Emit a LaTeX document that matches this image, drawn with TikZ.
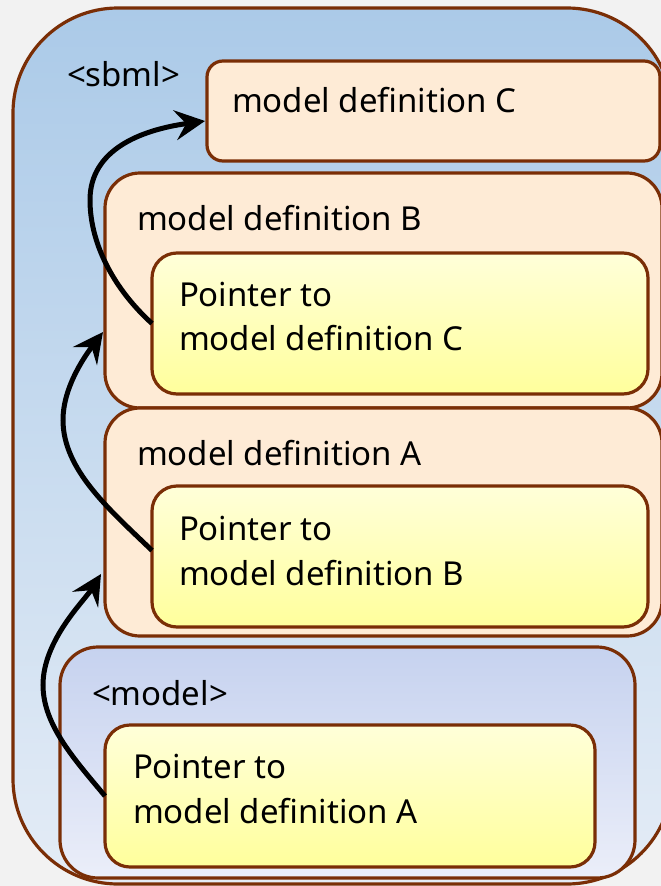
\documentclass[tikz,border=0pt]{standalone}
\usepackage{fontspec}
\setmainfont{Noto Sans}
\usetikzlibrary{arrows.meta,calc}
\definecolor{brd}{RGB}{122,46,6}
\definecolor{bgc}{RGB}{242,242,242}
\definecolor{outtop}{RGB}{171,202,232}
\definecolor{outbot}{RGB}{228,236,246}
\definecolor{peach}{RGB}{254,235,214}
\definecolor{ptop}{RGB}{255,255,217}
\definecolor{pbot}{RGB}{255,255,156}
\definecolor{mtop}{RGB}{198,210,239}
\definecolor{mbot}{RGB}{235,238,249}
\tikzset{
  frame/.style={draw=brd, line width=3.2pt, rectangle, inner sep=0pt, outer sep=0pt},
  outerbox/.style={frame, top color=outtop, bottom color=outbot, rounded corners=105pt},
  defbox/.style={frame, fill=peach},
  ptrbox/.style={frame, top color=ptop, bottom color=pbot, rounded corners=25pt},
  modbox/.style={frame, top color=mtop, bottom color=mbot, rounded corners=38pt},
  lbl/.style={anchor=base west, inner sep=0pt, outer sep=0pt, font=\fontsize{33}{40}\selectfont, text=black},
  arr/.style={line width=5pt, -{Stealth[length=30pt,width=30pt,inset=11pt]}},
}
\begin{document}
\begin{tikzpicture}[x=1pt,y=-1pt]
\useasboundingbox (0,0) rectangle (661,886);
\fill[bgc] (0,0) rectangle (661,886);
\begin{scope}
\clip (0,0) rectangle (661,886);
\node[outerbox, minimum width=659pt, minimum height=876pt] (outer) at (342.5,446) {};
\node[defbox, rounded corners=16pt, minimum width=453pt, minimum height=100pt] (mC) at (433.5,111) {};
\node[defbox, rounded corners=35pt, minimum width=557pt, minimum height=235pt] (mB) at (383.5,290.5) {};
\node[ptrbox, minimum width=496pt, minimum height=141pt] (pC) at (400,323.5) {};
\node[defbox, rounded corners=35pt, minimum width=557pt, minimum height=228pt] (mA) at (383.5,522) {};
\node[ptrbox, minimum width=496pt, minimum height=141pt] (pB) at (400,556.5) {};
\node[modbox, minimum width=575pt, minimum height=231pt] (mM) at (347.5,762.5) {};
\node[ptrbox, minimum width=490pt, minimum height=142pt] (pA) at (350,796) {};

\node[lbl] (tsbml) at (67,86) {<sbml>};
\node[lbl] (tC) at (232,112) {model definition C};
\node[lbl] (tB) at (137,230) {model definition B};
\node[lbl] (tpC1) at (179,306) {Pointer to};
\node[lbl] (tpC2) at (179,350) {model definition C};
\node[lbl] (tA) at (137,465) {model definition A};
\node[lbl] (tpB1) at (179,540) {Pointer to};
\node[lbl] (tpB2) at (179,585) {model definition B};
\node[lbl] (tmodel) at (92,705) {<model>};
\node[lbl] (tpA1) at (133,778) {Pointer to};
\node[lbl] (tpA2) at (133,823) {model definition A};

\coordinate (t1) at (101,574);
\coordinate (t2) at (103,332);
\coordinate (t3) at (205,121);
\draw[arr] (pA.west) .. controls (75,760) and (43,725) .. (43,685) .. controls (43,640) and (85,600) .. (t1);
\draw[arr] ([yshift=6pt]pB.west) .. controls (110,510) and (63,470) .. (63,420) .. controls (63,385) and (88,352) .. (t2);
\draw[arr] (pC.west) .. controls (115,290) and (90,245) .. (90,200) .. controls (90,150) and (140,130) .. (t3);
\end{scope}
\end{tikzpicture}
\end{document}
